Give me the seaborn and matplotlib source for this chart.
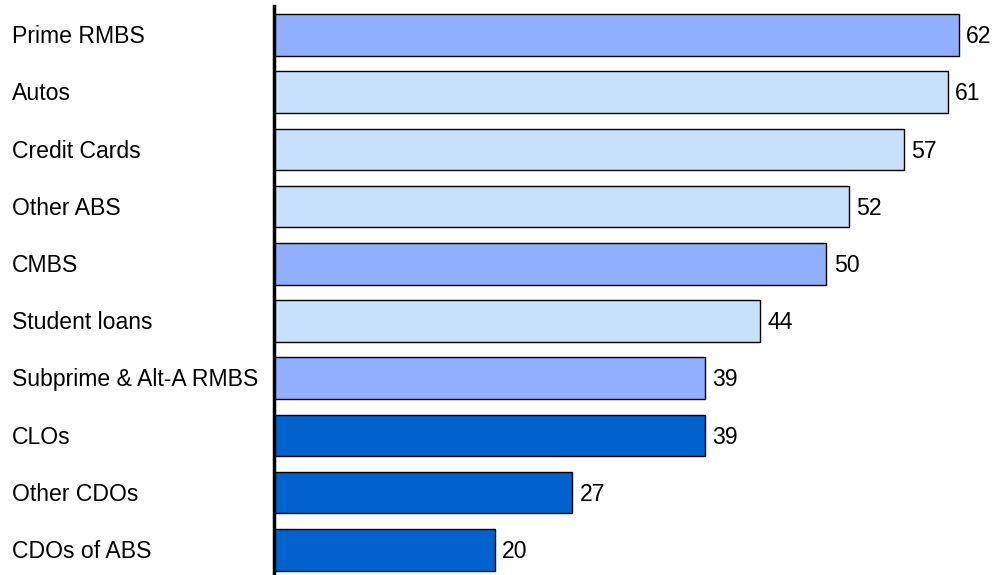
import matplotlib
matplotlib.use("Agg")
import matplotlib.pyplot as plt
import matplotlib.transforms as mtransforms
import seaborn as sns
import pandas as pd

categories = ["Prime RMBS", "Autos", "Credit Cards", "Other ABS", "CMBS",
              "Student loans", "Subprime & Alt-A RMBS", "CLOs", "Other CDOs", "CDOs of ABS"]
values = [62, 61, 57, 52, 50, 44, 39, 39, 27, 20]
colors = ["#91AFFF", "#C8E1FA", "#C8E1FA", "#C8E1FA", "#91AFFF",
          "#C8E1FA", "#91AFFF", "#0062CC", "#0062CC", "#0062CC"]

df = pd.DataFrame({"category": categories, "value": values})

sns.set_theme(style="white")
plt.rcParams["font.family"] = ["Liberation Sans", "DejaVu Sans"]

fig = plt.figure(figsize=(9.95, 5.75), dpi=100)
# axes spans y from 6.4px (top) to 578.4px (bottom)
ax = fig.add_axes([274 / 995, -3.4 / 575, 721 / 995, 572 / 575])

sns.barplot(data=df, x="value", y="category", hue="category",
            palette=dict(zip(categories, colors)), legend=False,
            orient="h", width=0.73, edgecolor="black", linewidth=1.0,
            saturation=1, ax=ax)

ax.set_xlim(0, 65.25)
ax.set_ylim(9.5, -0.5)
ax.set_xlabel("")
ax.set_ylabel("")
ax.set_xticks([])
ax.set_yticks([])
for s in ["top", "right", "bottom"]:
    ax.spines[s].set_visible(False)
ax.spines["left"].set_linewidth(2.5)
ax.spines["left"].set_color("black")

for i, v in enumerate(values):
    ax.text(v + 0.65, i + 0.03, f"{v}", va="center", ha="left", fontsize=16.6, color="black")

trans = mtransforms.blended_transform_factory(fig.transFigure, ax.transData)
for i, c in enumerate(categories):
    fig.text(12 / 995, i + 0.03, c, transform=trans, va="center", ha="left",
             fontsize=16.6, color="black")

fig.savefig("out.png", dpi=100)
